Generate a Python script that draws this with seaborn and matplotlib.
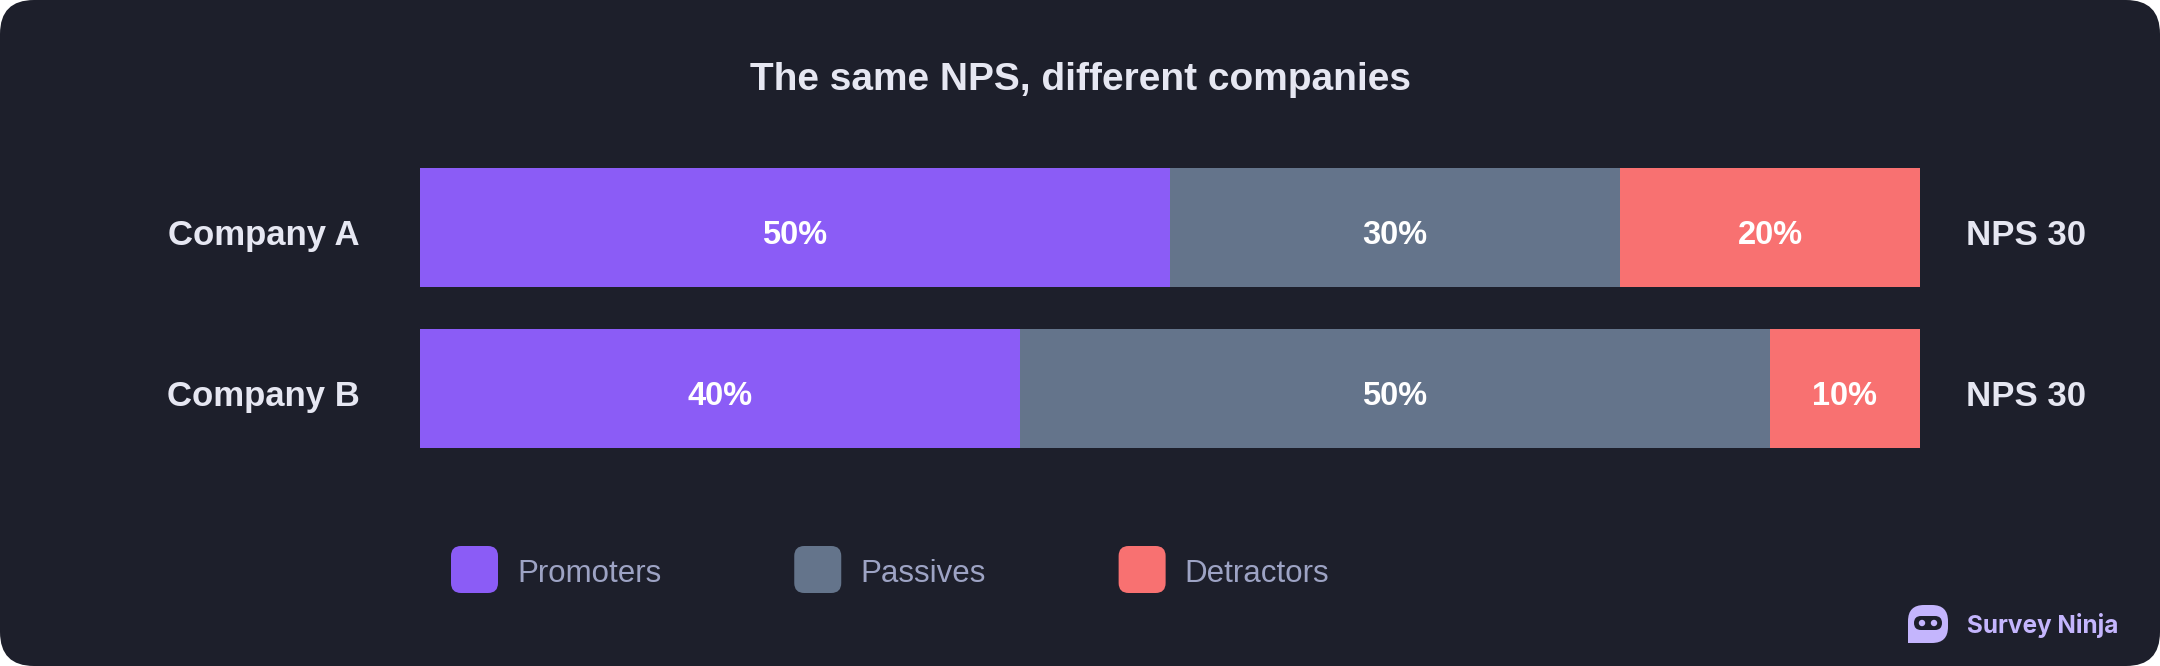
import matplotlib
matplotlib.use("Agg")
import matplotlib.pyplot as plt
import matplotlib.transforms as mtransforms
from matplotlib.patches import FancyBboxPatch, Rectangle, Circle
import seaborn as sns
import pandas as pd

# data
companies = ["Company A", "Company B"]
promoters = [50, 40]
passives = [30, 50]
detractors = [20, 10]
nps_labels = ["NPS 30", "NPS 30"]
series_names = ["Promoters", "Passives", "Detractors"]
series_colors = ["#8b5cf6", "#64748b", "#f87171"]

BG = "#1d1f2b"
LABEL = "#e6e7f2"
LEGEND_TXT = "#9da3c4"
LOGO = "#c4b5fd"
W, H = 2160, 666

sns.set_theme(style="white")
plt.rcParams["font.family"] = ["Liberation Sans", "DejaVu Sans"]

df = pd.DataFrame({"Company": companies, "Promoters": promoters,
                   "Passives": passives, "Detractors": detractors})
df["p_cum"] = df["Promoters"]
df["pp_cum"] = df["Promoters"] + df["Passives"]
df["total"] = df["pp_cum"] + df["Detractors"]

fig = plt.figure(figsize=(W / 100, H / 100), dpi=100, facecolor="white")

# background card with rounded corners, pixel coords (y from top)
bg = fig.add_axes([0, 0, 1, 1])
bg.set_xlim(0, W)
bg.set_ylim(H, 0)
bg.axis("off")
bg.add_patch(FancyBboxPatch((0, 0), W, H, boxstyle="round,pad=0,rounding_size=34",
                            fc=BG, ec="none"))

# bars area
ax = fig.add_axes([420 / W, 1 - 469 / H, 1500 / W, 322 / H])
ax.patch.set_alpha(0)
for col, color in zip(["total", "pp_cum", "p_cum"], series_colors[::-1]):
    sns.barplot(data=df, x=col, y="Company", color=color, orient="h", width=0.739,
                saturation=1, linewidth=0, edgecolor="none", ax=ax)
ax.set_xlim(0, 100)
ax.set_ylim(1.5, -0.5)
ax.axis("off")

# texts sit a touch below the bar centre, baseline aligned
def shifted(px):
    return mtransforms.offset_copy(ax.transData, fig=fig, x=0, y=-px, units="dots")

fs = 25
cap = 0.716 * fs * 100 / 72
bfs = 23.5
bcap = 0.716 * bfs * 100 / 72
for i, row in df.iterrows():
    starts = [0, row["p_cum"], row["pp_cum"]]
    widths = [row["Promoters"], row["Passives"], row["Detractors"]]
    for s, w in zip(starts, widths):
        ax.text(s + w / 2, i, f"{w}%", ha="center", va="baseline", color="white",
                fontsize=bfs, fontweight="bold", transform=shifted(bcap / 2 + 5))
    ax.text(-4, i, row["Company"], ha="right", va="baseline", color=LABEL,
            fontsize=fs, fontweight="bold", transform=shifted(cap / 2 + 5), clip_on=False)
    ax.text(103.1, i, nps_labels[i], ha="left", va="baseline", color=LABEL,
            fontsize=fs, fontweight="bold", transform=shifted(cap / 2 + 5), clip_on=False)

# title
bg.text(W / 2, 90, "The same NPS, different companies", ha="center", va="baseline",
        color=LABEL, fontsize=28, fontweight="bold")

# legend with rounded swatches
renderer = fig.canvas.get_renderer()
x = 451
for name, color in zip(series_names, series_colors):
    bg.add_patch(FancyBboxPatch((x, 546), 47, 47, boxstyle="round,pad=0,rounding_size=10",
                                fc=color, ec="none"))
    t = bg.text(x + 66, 582, name, ha="left", va="baseline", color=LEGEND_TXT, fontsize=22.5)
    tw = t.get_window_extent(renderer).width
    x = x + 66 + tw + 133

# Survey Ninja mark
bg.add_patch(FancyBboxPatch((1908, 605), 40, 38, boxstyle="round,pad=0,rounding_size=16",
                            fc=LOGO, ec="none"))
bg.add_patch(Rectangle((1908, 624), 16, 19, fc=LOGO, ec="none"))
bg.add_patch(FancyBboxPatch((1914, 616), 28, 14, boxstyle="round,pad=0,rounding_size=7",
                            fc=BG, ec="none"))
bg.add_patch(Circle((1922, 623), 3.2, fc=LOGO, ec="none"))
bg.add_patch(Circle((1934, 623), 3.2, fc=LOGO, ec="none"))
bg.text(1967, 633, "Survey Ninja", ha="left", va="baseline", color=LOGO,
        fontsize=17.5, fontweight="bold", family=["Inter", "DejaVu Sans"])

fig.savefig("out.png", dpi=100, facecolor="white")
